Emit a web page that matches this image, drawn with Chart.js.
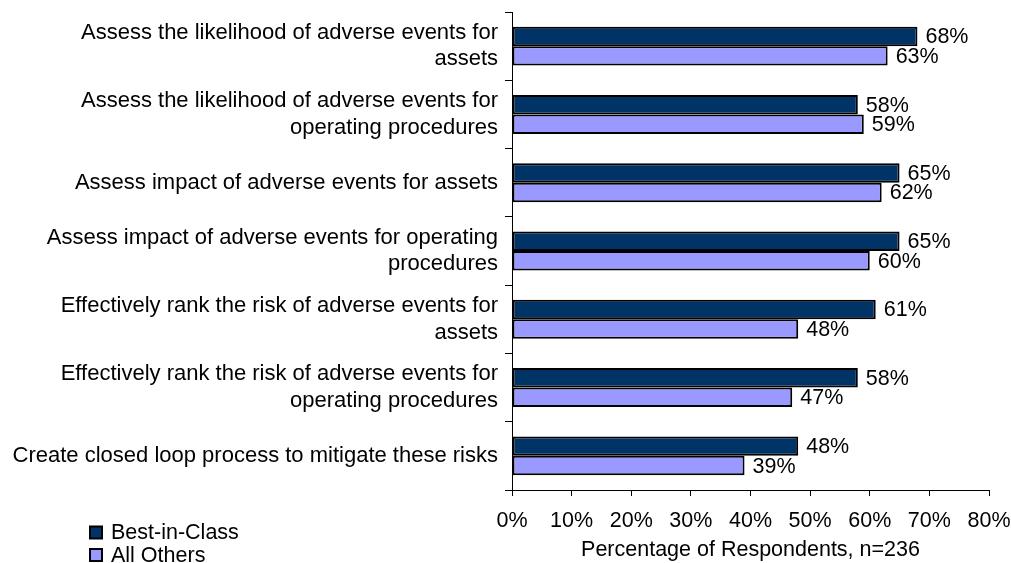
<!DOCTYPE html>
<html>
<head>
<meta charset="utf-8">
<script src="https://cdn.jsdelivr.net/npm/chart.js@4/dist/chart.umd.min.js"></script>
<style>
html,body{margin:0;padding:0;background:#fff;}
#wrap{width:1011px;height:563px;}
</style>
</head>
<body>
<div id="wrap"><canvas id="c" width="1011" height="563"></canvas></div>
<script>
const categories = [
  ["Assess the likelihood of adverse events for", "assets"],
  ["Assess the likelihood of adverse events for", "operating procedures"],
  "Assess impact of adverse events for assets",
  ["Assess impact of adverse events for operating", "procedures"],
  ["Effectively rank the risk of adverse events for", "assets"],
  ["Effectively rank the risk of adverse events for", "operating procedures"],
  "Create closed loop process to mitigate these risks"
];
const bestInClass = [68, 58, 65, 65, 61, 58, 48];
const allOthers = [63, 59, 62, 60, 48, 47, 39];
const seriesNames = ["Best-in-Class", "All Others"];
const xTicks = [0, 10, 20, 30, 40, 50, 60, 70, 80];
const axisTitle = "Percentage of Respondents, n=236";

const FONT = "'Liberation Sans', Arial, sans-serif";
const FS = 21.5;

const labelPlugin = {
  id: 'valueLabels',
  afterDatasetsDraw(chart) {
    const ctx = chart.ctx;
    ctx.save();
    ctx.font = FS + 'px ' + FONT;
    ctx.fillStyle = '#000';
    ctx.textAlign = 'left';
    ctx.textBaseline = 'middle';
    chart.data.datasets.forEach((ds, di) => {
      const meta = chart.getDatasetMeta(di);
      meta.data.forEach((bar, i) => {
        ctx.fillText(ds.data[i] + '%', bar.x + 8, bar.y + 1);
      });
    });
    ctx.restore();
  }
};

const legendPlugin = {
  id: 'customLegend',
  afterDraw(chart) {
    const ctx = chart.ctx;
    ctx.save();
    ctx.font = FS + 'px ' + FONT;
    ctx.textBaseline = 'middle';
    ctx.textAlign = 'left';
    chart.data.datasets.forEach((ds, di) => {
      const y = 532.5 + di * 22.5;
      ctx.fillStyle = ds.backgroundColor;
      ctx.fillRect(90, y - 6, 12, 12);
      ctx.strokeStyle = '#000';
      ctx.lineWidth = 2;
      ctx.strokeRect(90, y - 6, 12, 12);
      ctx.fillStyle = '#000';
      ctx.fillText(ds.label, 111, y + 1);
    });
    ctx.restore();
  }
};

new Chart(document.getElementById('c'), {
  type: 'bar',
  data: {
    labels: categories,
    datasets: [
      { label: seriesNames[0], data: bestInClass, backgroundColor: '#003366', borderColor: '#000', borderWidth: 2, borderSkipped: false },
      { label: seriesNames[1], data: allOthers, backgroundColor: '#9999FF', borderColor: '#000', borderWidth: 2, borderSkipped: false }
    ]
  },
  options: {
    indexAxis: 'y',
    responsive: false,
    animation: false,
    devicePixelRatio: 1,
    layout: { padding: { left: 0, right: 22, top: 12, bottom: 0 } },
    datasets: { bar: { barPercentage: 1.0, categoryPercentage: 0.57 } },
    plugins: { legend: { display: false }, tooltip: { enabled: false } },
    scales: {
      x: {
        min: 0, max: 80,
        afterBuildTicks(scale) { scale.ticks = xTicks.map(v => ({ value: v })); },
        afterFit(scale) { scale.height = 73; scale.paddingLeft = 0; scale.paddingRight = 0; },
        ticks: {
          callback: v => v + '%',
          color: '#000',
          font: { family: FONT, size: FS },
          padding: 12,
          maxRotation: 0
        },
        grid: { drawOnChartArea: false, drawTicks: true, tickLength: 6, color: '#000', lineWidth: 1 },
        border: { display: true, color: '#000', width: 1 },
        title: {
          display: true, text: axisTitle, color: '#000',
          font: { family: FONT, size: FS }, padding: { top: 0, bottom: 0 }
        }
      },
      y: {
        afterFit(scale) { scale.width = 512; scale.paddingTop = 0; scale.paddingBottom = 0; },
        ticks: {
          color: '#000',
          font: { family: FONT, size: 22, lineHeight: 1.2 },
          padding: 7
        },
        grid: { drawOnChartArea: false, drawTicks: true, tickLength: 7, color: '#000', lineWidth: 1, offset: true },
        border: { display: true, color: '#000', width: 1 }
      }
    }
  },
  plugins: [labelPlugin, legendPlugin]
});
</script>
</body>
</html>
